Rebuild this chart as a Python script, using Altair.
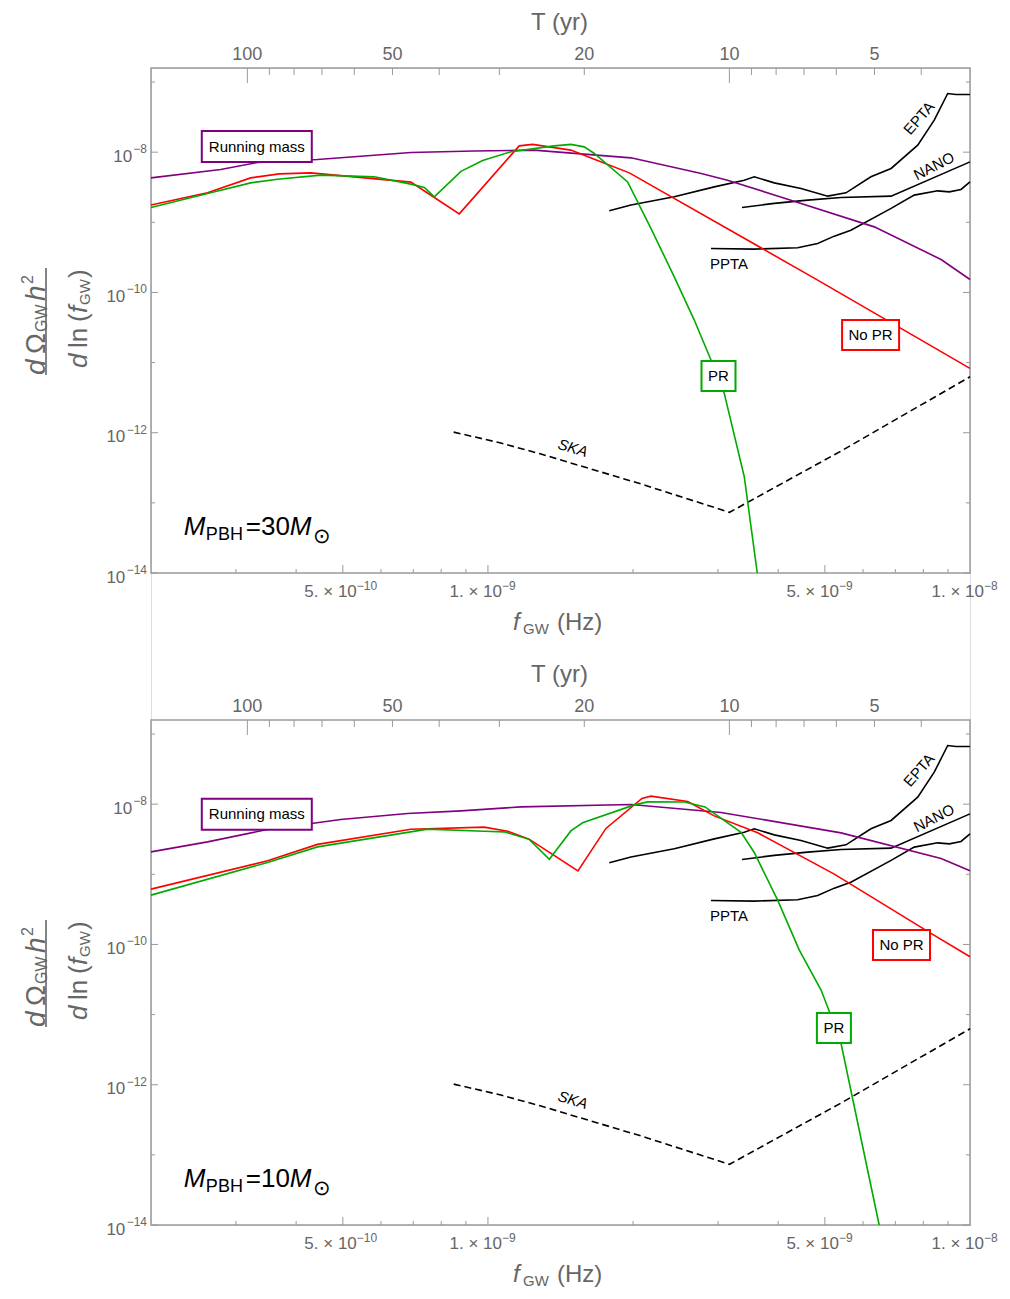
import altair as alt
import pandas as pd

# ---------------- data ----------------
# Panel 1 : M_PBH = 30 M_sun
rm1_f = [2.0e-10, 2.79e-10, 3.33e-10, 4.43e-10, 6.92e-10, 9.35e-10, 1.246e-9, 1.98e-9,
         2.77e-9, 3.14e-9, 4.25e-9, 6.33e-9, 8.71e-9, 1.0e-8]
rm1_o = [4.30e-9, 5.67e-9, 7.13e-9, 7.87e-9, 9.9e-9, 1.04e-8, 1.07e-8, 8.30e-9,
         4.97e-9, 3.99e-9, 2.07e-9, 8.61e-10, 2.95e-10, 1.53e-10]

nopr1_f = [2.0e-10, 2.62e-10, 3.22e-10, 3.69e-10, 4.29e-10, 6.92e-10, 7.74e-10, 8.72e-10,
           1.161e-9, 1.238e-9, 1.486e-9, 1.662e-9, 1.965e-9, 4.83e-9, 1.0e-8]
nopr1_o = [1.76e-9, 2.63e-9, 4.30e-9, 4.91e-9, 5.07e-9, 3.74e-9, 2.26e-9, 1.32e-9,
           1.23e-8, 1.29e-8, 1.07e-8, 7.95e-9, 5.07e-9, 1.50e-10, 8.27e-12]

pr1_f = [2.0e-10, 2.62e-10, 3.22e-10, 3.66e-10, 4.50e-10, 5.81e-10, 6.92e-10, 7.38e-10,
         7.74e-10, 8.79e-10, 9.75e-10, 1.116e-9, 1.373e-9, 1.486e-9, 1.584e-9, 1.662e-9,
         1.949e-9, 2.178e-9, 2.435e-9, 2.679e-9, 2.902e-9, 3.092e-9, 3.402e-9, 3.62e-9]
pr1_o = [1.63e-9, 2.58e-9, 3.65e-9, 4.12e-9, 4.70e-9, 4.45e-9, 3.50e-9, 3.14e-9,
         2.31e-9, 5.32e-9, 7.62e-9, 1.016e-8, 1.23e-8, 1.29e-8, 1.19e-8, 9.58e-9,
         3.77e-9, 8.18e-10, 1.67e-10, 4.04e-11, 1.09e-11, 3.64e-12, 2.36e-13, 1.0e-14]

# Panel 2 : M_PBH = 10 M_sun
rm2_f = [2.0e-10, 2.62e-10, 3.49e-10, 4.95e-10, 6.81e-10, 8.79e-10, 1.171e-9, 1.98e-9,
         3.044e-9, 5.40e-9, 8.71e-9, 1.0e-8]
rm2_o = [2.09e-9, 2.90e-9, 4.36e-9, 6.05e-9, 7.37e-9, 8.03e-9, 9.15e-9, 9.9e-9,
         7.62e-9, 3.90e-9, 1.68e-9, 1.12e-9]

nopr2_f = [2.0e-10, 3.49e-10, 4.43e-10, 6.92e-10, 9.82e-10, 1.099e-9, 1.217e-9, 1.537e-9,
           1.757e-9, 2.087e-9, 2.178e-9, 2.596e-9, 2.948e-9, 3.627e-9, 5.23e-9, 8.30e-9,
           1.0e-8]
nopr2_o = [6.15e-10, 1.556e-9, 2.67e-9, 4.40e-9, 4.70e-9, 4.12e-9, 3.17e-9, 1.12e-9,
           4.51e-9, 1.205e-8, 1.30e-8, 1.093e-8, 6.81e-9, 3.90e-9, 1.006e-9, 1.44e-10,
           6.67e-11]

pr2_f = [2.0e-10, 3.49e-10, 4.43e-10, 7.50e-10, 9.82e-10, 1.081e-9, 1.218e-9, 1.341e-9,
         1.486e-9, 1.572e-9, 2.012e-9, 2.145e-9, 2.555e-9, 2.82e-9, 3.35e-9, 3.568e-9,
         3.99e-9, 4.425e-9, 4.91e-9, 5.11e-9, 5.40e-9, 6.48e-9]
pr2_o = [5.05e-10, 1.476e-9, 2.46e-9, 4.40e-9, 4.12e-9, 4.03e-9, 3.15e-9, 1.634e-9,
         4.15e-9, 5.42e-9, 9.77e-9, 1.078e-8, 1.075e-8, 9.15e-9, 3.97e-9, 2.05e-9,
         4.28e-10, 8.30e-11, 2.24e-11, 1.10e-11, 3.89e-12, 1.0e-14]

# Sensitivity curves (same in both panels)
epta_f = [1.785e-9, 1.98e-9, 2.435e-9, 2.948e-9, 3.402e-9, 3.568e-9, 3.926e-9, 4.461e-9,
          5.068e-9, 5.53e-9, 6.23e-9, 6.86e-9, 7.79e-9, 8.43e-9, 8.99e-9, 9.35e-9, 1.0e-8]
epta_o = [1.457e-9, 1.76e-9, 2.31e-9, 3.20e-9, 3.99e-9, 4.45e-9, 3.65e-9, 3.04e-9,
          2.36e-9, 2.63e-9, 4.45e-9, 5.86e-9, 1.258e-8, 2.86e-8, 6.86e-8, 6.64e-8, 6.64e-8]
nano_f = [3.365e-9, 3.926e-9, 4.605e-9, 5.40e-9, 6.86e-9, 1.0e-8]
nano_o = [1.63e-9, 1.86e-9, 2.07e-9, 2.26e-9, 2.36e-9, 7.27e-9]
ppta_f = [2.902e-9, 3.568e-9, 4.39e-9, 4.83e-9, 5.23e-9, 5.66e-9, 6.86e-9, 7.66e-9,
          8.57e-9, 9.06e-9, 9.58e-9, 1.0e-8]
ppta_o = [4.24e-10, 4.15e-10, 4.33e-10, 5.0e-10, 6.35e-10, 7.73e-10, 1.58e-9, 2.44e-9,
          2.81e-9, 2.72e-9, 2.94e-9, 3.77e-9]
ska_f = [8.49e-10, 1.064e-9, 1.288e-9, 2.077e-9, 3.17e-9, 5.40e-9, 1.0e-8]
ska_o = [1.02e-12, 7.13e-13, 4.97e-13, 1.86e-13, 7.33e-14, 5.48e-13, 6.28e-12]

# Axes / ticks
X_DOMAIN = [2e-10, 1e-8]
Y_DOMAIN = [1e-14, 1.585e-7]
YEAR = 31557600.0

f_major = [5e-10, 1e-9, 5e-9]
f_minor = [3e-10, 4e-10, 6e-10, 7e-10, 8e-10, 9e-10, 2e-9, 3e-9, 4e-9, 6e-9, 7e-9, 8e-9, 9e-9]
f_label_values = [5e-10, 1e-9, 5e-9, 1e-8]
f_label_main = ["5. × 10", "1. × 10", "5. × 10", "1. × 10"]
f_label_sup = ["−10", "−9", "−9", "−8"]

y_major = [1e-14, 1e-12, 1e-10, 1e-8]
y_minor = [1e-13, 1e-11, 1e-9, 1e-7]
y_label_main = ["10", "10", "10", "10"]
y_label_sup = ["−14", "−12", "−10", "−8"]

t_major = [100, 10]
t_minor = [90, 80, 70, 60, 50, 40, 30, 20, 9, 8, 7, 6, 5, 4]
t_labels = [100, 50, 20, 10, 5]

# Annotation anchors (data coordinates)
ann1 = dict(rm=(3.315e-10, 1.204e-8), pr=(3.008e-9, 6.43e-12), nopr=(6.22e-9, 2.47e-11))
ann2 = dict(rm=(3.315e-10, 7.20e-9), pr=(5.22e-9, 6.43e-12), nopr=(7.21e-9, 9.8e-11))
det_labels = [("PPTA", 3.162e-9, 2.535e-10, 0, "normal"),
              ("EPTA", 7.84e-9, 3.05e-8, 311, "normal"),
              ("NANO", 8.42e-9, 6.32e-9, 333, "normal"),
              ("SKA", 1.50e-9, 6.05e-13, 17, "italic")]
mass_anchor = (2.34e-10, 3.48e-14)

# ---------------- layout / styling ----------------
W, H = 819, 505          # plot area of one panel
TOP2 = 652               # top of second panel, relative to the first
HT = TOP2 + H            # total layered height
FRAME = "#9a9a9a"
LG = "#666666"
FONT = "Liberation Sans"
PURPLE, RED, GREEN = "#800080", "#ff0000", "#00aa00"

xs = alt.Scale(type="log", domain=X_DOMAIN, nice=False)
one = pd.DataFrame({"a": [0]})


def yscale(top):
    return alt.Scale(type="log", domain=Y_DOMAIN, range=[top + H, top], nice=False)


def X(field="f"):
    return alt.X(f"{field}:Q", scale=xs, axis=None)


def panel(top, rm, nopr, pr, ann, mass_text):
    ys = yscale(top)
    Y = lambda: alt.Y("o:Q", scale=ys, axis=None)

    def line(f, o, color, dash=None):
        kw = dict(color=color, strokeWidth=1.6)
        if dash:
            kw["strokeDash"] = dash
        return alt.Chart(pd.DataFrame({"f": f, "o": o})).mark_line(**kw).encode(x=X(), y=Y())

    def xticks(vals, length):
        return alt.Chart(pd.DataFrame({"f": vals})).mark_rule(color=FRAME, strokeWidth=1).encode(
            x=X(), y=alt.value(top + H), y2=alt.value(top + H - length))

    def tticks(vals, length):
        return alt.Chart(pd.DataFrame({"T": vals})).transform_calculate(
            f=f"1 / (datum.T * {YEAR})").mark_rule(color=FRAME, strokeWidth=1).encode(
            x=X(), y=alt.value(top), y2=alt.value(top + length))

    def yticks(vals, length, side):
        xx, xx2 = (alt.value(0), alt.value(length)) if side == "left" else \
                  (alt.value(W), alt.value(W - length))
        return alt.Chart(pd.DataFrame({"o": vals})).mark_rule(color=FRAME, strokeWidth=1).encode(
            y=Y(), x=xx, x2=xx2)

    def box(pos, w, h, color):
        hh = round(h / w, 4)
        path = f"M-1,{-hh}L1,{-hh}L1,{hh}L-1,{hh}Z"
        return alt.Chart(pd.DataFrame({"f": [pos[0]], "o": [pos[1]]})).mark_point(
            shape=path, size=w * w, filled=True, fill="white", stroke=color,
            strokeWidth=2, opacity=1).encode(x=X(), y=Y())

    def dtext(text, f, o, size=15, angle=0, style="normal", dx=0, dy=0, align="center",
              baseline="middle", color="black"):
        return alt.Chart(pd.DataFrame({"f": [f], "o": [o]})).mark_text(
            text=text, fontSize=size, angle=angle, fontStyle=style, dx=dx, dy=dy, align=align,
            baseline=baseline, color=color, font=FONT).encode(x=X(), y=Y())

    def ptext(text, x, y, size=24, angle=0, style="normal", dx=0, dy=0, align="left",
              baseline="alphabetic", color=LG):
        return alt.Chart(one).mark_text(
            text=text, fontSize=size, angle=angle, fontStyle=style, dx=dx, dy=dy, align=align,
            baseline=baseline, color=color, font=FONT).encode(
            x=alt.value(x), y=alt.value(top + y))

    # frame
    layers = [alt.Chart(one).mark_rect(fill="transparent", stroke=FRAME, strokeWidth=1.5).encode(
        x=alt.value(0), x2=alt.value(W), y=alt.value(top), y2=alt.value(top + H))]
    # ticks
    layers += [xticks(f_major, 8), xticks(f_minor, 4), tticks(t_major, 15), tticks(t_minor, 7),
               yticks(y_major, 7, "left"), yticks(y_minor, 4, "left"),
               yticks(y_major, 7, "right"), yticks(y_minor, 4, "right")]
    # tick labels: bottom (frequency)
    fl = pd.DataFrame({"f": f_label_values, "m": f_label_main, "s": f_label_sup})
    layers += [
        alt.Chart(fl).mark_text(fontSize=17, align="right", baseline="alphabetic", dx=14,
                                color=LG, font=FONT).encode(
            x=X(), y=alt.value(top + H + 24), text="m:N"),
        alt.Chart(fl).mark_text(fontSize=12, align="left", baseline="alphabetic", dx=14,
                                color=LG, font=FONT).encode(
            x=X(), y=alt.value(top + H + 17), text="s:N"),
    ]
    # tick labels: left (Omega)
    yl = pd.DataFrame({"o": y_major, "m": y_label_main, "s": y_label_sup})
    yl["px"] = [-5 - 6.9 * len(s) for s in y_label_sup]
    layers += [
        alt.Chart(yl).mark_text(fontSize=17, align="right", baseline="alphabetic", dy=9.5,
                                color=LG, font=FONT).encode(
            x=alt.X("px:Q", scale=None, axis=None), y=Y(), text="m:N"),
        alt.Chart(yl).mark_text(fontSize=12, align="right", baseline="alphabetic", dy=1,
                                color=LG, font=FONT).encode(
            x=alt.value(-4), y=Y(), text="s:N"),
    ]
    # tick labels: top (period in years)
    tl = pd.DataFrame({"T": t_labels})
    layers += [
        alt.Chart(tl).transform_calculate(f=f"1 / (datum.T * {YEAR})").mark_text(
            fontSize=18, align="center", baseline="alphabetic", color=LG, font=FONT).encode(
            x=X(), y=alt.value(top - 8), text="T:Q"),
        ptext("T (yr)", W / 2 - 1, -38, align="center"),
    ]
    # curves
    layers += [
        line(ppta_f, ppta_o, "black"),
        line(nano_f, nano_o, "black"),
        line(epta_f, epta_o, "black"),
        line(ska_f, ska_o, "black", dash=[7, 4]),
        line(rm[0], rm[1], PURPLE),
        line(nopr[0], nopr[1], RED),
        line(pr[0], pr[1], GREEN),
    ]
    # annotations
    layers += [
        box(ann["rm"], 110, 31, PURPLE), dtext("Running mass", *ann["rm"]),
        box(ann["pr"], 34, 30, GREEN), dtext("PR", *ann["pr"]),
        box(ann["nopr"], 57, 30, RED), dtext("No PR", *ann["nopr"]),
    ]
    for t, f, o, ang, st in det_labels:
        layers.append(dtext(t, f, o, angle=ang, style=st))
    mf, mo = mass_anchor
    layers += [
        dtext("M", mf, mo, size=26, style="italic", align="left", baseline="alphabetic"),
        dtext("PBH", mf, mo, size=18, dx=22, dy=5, align="left", baseline="alphabetic"),
        dtext("=" + mass_text, mf, mo, size=26, dx=62, align="left", baseline="alphabetic"),
        dtext("M", mf, mo, size=26, style="italic", dx=106, align="left", baseline="alphabetic"),
        dtext("⊙", mf, mo, size=21, dx=129, dy=8, align="left", baseline="alphabetic"),
    ]
    # y-axis title: d Omega_GW h^2 / d ln(f_GW), rotated
    nx, ny = -106, 307
    layers += [
        ptext("d", nx, ny, size=28, angle=270, style="italic"),
        ptext("Ω", nx, ny, size=28, angle=270, dx=21),
        ptext("GW", nx, ny, size=16, angle=270, dx=43, dy=2),
        ptext("h", nx, ny, size=28, angle=270, style="italic", dx=74),
        ptext("2", nx, ny, size=16, angle=270, dx=91, dy=-12),
    ]
    dxn, dyn = -64, 300
    layers += [
        ptext("d", dxn, dyn, size=26, angle=270, style="italic"),
        ptext("ln", dxn, dyn, size=26, angle=270, dx=20),
        ptext("(", dxn, dyn, size=26, angle=270, dx=46),
        ptext("f", dxn, dyn, size=26, angle=270, style="italic", dx=55),
        ptext("GW", dxn, dyn, size=15, angle=270, dx=63, dy=3),
        ptext(")", dxn, dyn, size=26, angle=270, dx=90),
        alt.Chart(one).mark_rule(color=LG, strokeWidth=1.6).encode(
            x=alt.value(-105), y=alt.value(top + 200), y2=alt.value(top + 307)),
    ]
    # x-axis title
    layers += [
        ptext("f", 362, H + 57, style="italic"),
        ptext("GW", 372, H + 57, size=15, dy=4),
        ptext("(Hz)", 406, H + 57),
    ]
    return layers


layers = panel(0, (rm1_f, rm1_o), (nopr1_f, nopr1_o), (pr1_f, pr1_o), ann1, "30") + \
    panel(TOP2, (rm2_f, rm2_o), (nopr2_f, nopr2_o), (pr2_f, pr2_o), ann2, "10")

chart = alt.layer(*layers).resolve_scale(y="independent").properties(
    width=W, height=HT,
    autosize=alt.AutoSizeParams(type="none"),
    padding={"left": 143, "top": 60, "right": 30, "bottom": 64},
).configure_view(stroke="transparent").configure(font=FONT)

chart.save("out.html", embed_options={"renderer": "svg", "actions": False})
